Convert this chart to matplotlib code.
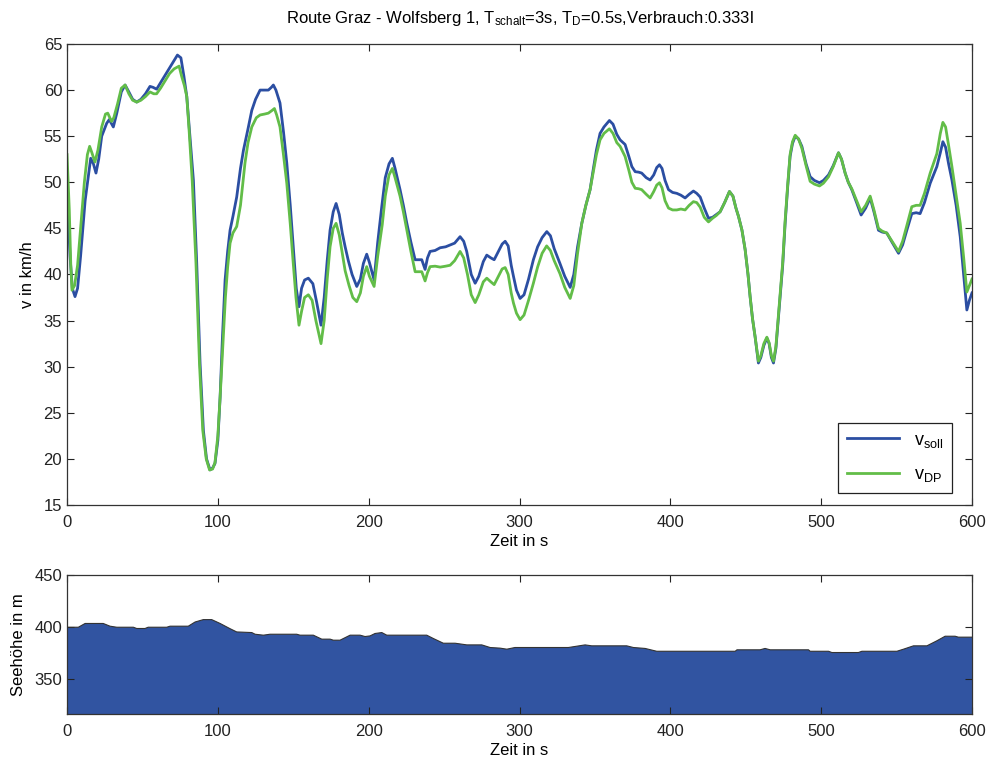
import matplotlib
matplotlib.use('Agg')
import matplotlib.pyplot as plt

plt.rcParams['font.family'] = ['Liberation Sans', 'DejaVu Sans']
plt.rcParams['mathtext.default'] = 'regular'

# v_soll (blue)
t_soll = [0, 2, 3.5, 5.3, 7, 9, 12, 15.7, 17.5, 19.2, 21, 23, 26.3, 28, 30.7, 33, 36, 38.5, 41, 43.5,
          46.2, 49, 52, 55, 57, 59.4, 62, 65, 68, 71, 73.2, 75.5, 77.5, 79.4, 81.5, 83.8, 86, 88.2, 90.4, 92.5,
          94.8, 96.5, 98.1, 100, 101.5, 103, 104.8, 106.5, 108.1, 110, 112.5, 115, 117, 120, 122.5, 125, 128, 131, 133.5, 135.5,
          136.8, 138.5, 141.2, 143.5, 145.7, 148, 150, 152, 153.8, 155.5, 157.5, 160, 163, 165.5, 168.4, 170.5, 172.5, 174.4, 176.5, 178.4,
          180.5, 182.5, 184.4, 186.5, 189, 192.1, 194.5, 196.5, 198.7, 200.5, 203.6, 206, 208.7, 211, 213.5, 215.7, 217.5, 220.8, 223, 225.3,
          228, 230.8, 233, 235.2, 237.4, 239, 240.7, 244, 247.4, 251, 254, 257, 260.6, 263, 265, 268, 270.6, 273, 276, 278.3,
          281, 283.2, 286, 288.5, 290.5, 292.5, 294.5, 296, 298, 300.4, 303, 306, 309.2, 312, 315, 318.1, 320.5, 323, 326.8, 330,
          333.6, 336, 338.5, 341.3, 344, 346.8, 349, 351, 353.4, 356, 359.6, 362, 364.5, 366.7, 370, 372.5, 374.5, 376.7, 379, 381,
          384, 386.6, 389, 391, 392.8, 394.5, 396.5, 398.8, 401.5, 404.3, 407, 409.8, 412.5, 415.3, 417.5, 419.8, 422.5, 425.3, 428, 430.5,
          433, 436, 439.2, 441.5, 443.5, 445.2, 447.5, 449.6, 451.5, 452.9, 454.5, 456.2, 458.4, 460, 462, 464, 465.5, 467, 468.4, 470,
          472.8, 474.5, 476.1, 477.8, 479.4, 481, 482.8, 485, 487.2, 490, 492.7, 495.5, 498.9, 501.5, 504.9, 508, 511.5, 513.5, 515.9, 518,
          520.3, 523.5, 526.5, 529.5, 532.5, 535, 538, 540.5, 543.5, 547, 551.3, 554, 556.8, 560.1, 563, 565.6, 568.5, 572.3, 576.7, 579,
          580.7, 582.5, 584.5, 586.7, 589.5, 592.2, 594.5, 596.6, 598.3, 600]
v_soll = [49, 42, 38.5, 37.6, 38.5, 42, 48, 52.6, 52, 51.0, 52.5, 55, 56.4, 56.8, 56.0, 57.5, 59.8, 60.55, 59.8, 59,
          58.7, 59, 59.6, 60.4, 60.3, 60.1, 60.8, 61.6, 62.4, 63.2, 63.8, 63.5, 61.5, 59.3, 55, 50.2, 41.2, 30.4, 23.1, 20,
          18.8, 19, 19.5, 22, 26.7, 33, 39.4, 42.5, 44.8, 46.3, 48.4, 51.5, 53.5, 55.8, 57.8, 59, 60.0, 60.0, 60.0, 60.3,
          60.55, 60, 58.6, 55.5, 52.1, 47.5, 43.0, 38.5, 36.5, 38.5, 39.4, 39.6, 39.0, 37, 34.5, 37.5, 41.5, 44.8, 46.8, 47.7,
          46.5, 44.5, 43.0, 41.5, 40, 38.7, 39.5, 41.2, 42.2, 41.3, 39.4, 43.5, 47.4, 50.5, 52, 52.6, 51.5, 49.2, 47.5, 45.55,
          43.5, 41.6, 41.6, 41.6, 40.55, 41.8, 42.5, 42.6, 42.9, 43.0, 43.2, 43.4, 44.1, 43.6, 42.5, 40, 39.05, 39.8, 41.4, 42.1,
          41.8, 41.6, 42.5, 43.3, 43.6, 43.1, 41.0, 39.8, 38.3, 37.4, 37.8, 39.5, 41.6, 43.0, 44, 44.65, 44.2, 42.8, 41.2, 39.8,
          38.6, 40, 43, 45.55, 47.5, 49.2, 51.5, 53.5, 55.3, 56, 56.7, 56.3, 55.2, 54.6, 54.1, 52.8, 51.7, 51.15, 51.1, 51.0,
          50.5, 50.25, 50.8, 51.6, 51.9, 51.5, 50.2, 49.2, 48.9, 48.8, 48.6, 48.3, 48.7, 49.05, 48.8, 48.4, 47.2, 46.1, 46.2, 46.5,
          46.8, 47.8, 49.0, 48.5, 47.2, 46.3, 44.8, 42.7, 40, 37.6, 35.2, 33.25, 30.4, 31, 32.3, 33.1, 32.5, 31, 30.4, 32,
          37.6, 41, 45.5, 49.5, 52.8, 54.2, 55.0, 54.7, 53.9, 52, 50.6, 50.2, 49.95, 50.2, 50.8, 51.8, 53.2, 52.5, 51.0, 50,
          49.2, 47.8, 46.45, 47.2, 48.3, 46.8, 44.8, 44.6, 44.5, 43.5, 42.3, 43.2, 44.8, 46.6, 46.7, 46.6, 47.8, 49.9, 51.7, 53.2,
          54.4, 53.8, 52, 50.25, 47.5, 44.1, 40, 36.15, 37.2, 38.0]

# v_DP (green)
t_dp = [0, 1.5, 2.5, 3.3, 5, 7, 9, 11.5, 13.5, 15, 16.5, 18.5, 20.5, 23, 25.5, 27, 29.5, 31, 33.5, 36,
        38.5, 41, 43.5, 46.2, 49, 52, 55, 57.5, 59.4, 62, 65, 68, 71, 74.3, 76, 77.8, 79.4, 81, 83, 85.5,
        87.8, 90, 92.3, 94.5, 96.5, 98.1, 100, 101.5, 103.5, 105, 106.5, 108.1, 110, 112.5, 115, 118, 120, 122.5, 125.5, 128,
        131, 133.5, 136, 137.5, 139, 141.2, 143.5, 145.7, 148, 150, 151.8, 153.8, 155.5, 157.5, 160, 162.5, 165, 168.4, 170.5, 172.5,
        174.4, 176.5, 178.4, 180.5, 182.5, 184.4, 187, 189.5, 192.1, 194.5, 196.5, 198.7, 200.5, 203.6, 206, 209, 211, 213.5, 215.7, 217.5,
        220.8, 223, 225.3, 228, 230.8, 233, 235.2, 237.4, 239, 240.7, 244, 247.4, 251, 254, 257, 260.6, 263, 265.5, 268, 270.6,
        273, 276, 278.3, 281, 283.2, 286, 288.5, 290.5, 292.5, 294.5, 296, 298, 300.4, 303, 306, 309.2, 312, 315, 318, 320.5,
        323, 326.8, 330, 333.6, 336, 338.5, 341.3, 344, 346.8, 349, 351, 353.4, 356, 359.6, 362, 364.5, 366.7, 370, 372.5, 374.5,
        376.7, 379, 381, 384, 386.6, 389, 391, 392.8, 394.5, 396.5, 398.8, 401.5, 404.3, 407, 409.8, 412.5, 415.3, 417.5, 419.8, 422.5,
        425.3, 428, 430.5, 433, 436, 439.2, 441.5, 443.5, 445.2, 447.5, 449.6, 451.5, 452.9, 454.5, 456.2, 458.4, 460, 462, 464, 465.5,
        467, 468.4, 470, 472.8, 474.5, 476.1, 477.8, 479.4, 481, 482.8, 485, 487.2, 490, 492.7, 495.5, 498.9, 501.5, 504.9, 508, 511.5,
        513.5, 515.9, 518, 520.3, 523.5, 526.5, 529.5, 532.5, 535, 538, 540.5, 543.5, 547, 551.3, 554, 556.8, 560.1, 563, 565.6, 568.5,
        572.3, 576.7, 579, 580.7, 582.5, 584.5, 586.7, 589.5, 592.2, 594.5, 596.6, 598.3, 600]
v_dp = [53, 47, 41, 38.3, 38.8, 41, 45, 50, 53, 53.9, 53.2, 52.2, 53.5, 56, 57.4, 57.5, 56.6, 57, 58.5, 60.2,
        60.55, 59.6, 58.9, 58.7, 58.9, 59.3, 59.8, 59.6, 59.6, 60.2, 61.0, 61.8, 62.3, 62.6, 61.5, 60.5, 59.3, 55.5, 50.2, 41.2,
        30.4, 23.1, 20, 18.8, 18.9, 19.6, 22.5, 26.7, 33, 37.5, 40.8, 43.4, 44.5, 45.2, 47.5, 52.1, 54.3, 56.0, 57, 57.3,
        57.4, 57.5, 57.8, 58.0, 57.3, 56.0, 53, 49.9, 45.5, 41.2, 37.5, 34.5, 36, 37.5, 37.8, 37.2, 35, 32.5, 35, 39.5,
        43.0, 45, 45.55, 44.3, 42.3, 40.4, 38.8, 37.5, 37.05, 38, 39.8, 40.85, 39.8, 38.7, 42, 45.4, 48.5, 50.8, 51.5, 50.5,
        48.5, 46.8, 44.8, 42.5, 40.3, 40.3, 40.3, 39.3, 40.2, 40.85, 40.9, 40.8, 40.9, 41.0, 41.5, 42.5, 41.8, 40, 37.8, 36.95,
        37.8, 39.2, 39.6, 39.2, 38.9, 39.8, 40.6, 40.75, 40, 38, 36.9, 35.8, 35.1, 35.6, 37.2, 39.05, 40.8, 42.3, 43.1, 42.6,
        41.5, 40.1, 38.6, 37.4, 38.8, 42.3, 45.55, 47.5, 49.2, 51.2, 53, 54.6, 55.3, 55.8, 55.3, 54.3, 53.9, 52.8, 51.3, 50,
        49.35, 49.3, 49.2, 48.7, 48.3, 49, 49.7, 49.95, 49.4, 48, 47.2, 47.0, 47.0, 47.1, 47.0, 47.5, 47.9, 47.8, 47.3, 46.2,
        45.7, 46.1, 46.4, 46.8, 47.8, 49.0, 48.5, 47.2, 46.3, 44.8, 42.7, 40, 37.6, 35.2, 33.25, 30.6, 31.2, 32.5, 33.2, 32.6,
        31.2, 30.6, 32.2, 37.8, 41.3, 45.8, 49.7, 53.0, 54.4, 55.1, 54.7, 53.7, 51.8, 50.1, 49.8, 49.6, 49.9, 50.6, 51.7, 53.2,
        52.5, 51.0, 50, 49.3, 48, 46.8, 47.5, 48.5, 47, 45, 44.7, 44.5, 43.6, 42.5, 43.6, 45.3, 47.35, 47.5, 47.5, 48.8,
        51.0, 53.1, 55.3, 56.5, 56, 54, 51.7, 48.6, 45.55, 41.8, 38.1, 38.8, 39.5]

# Seehoehe
t_hoehe = [0, 7.5, 12, 24, 28.5, 33, 44, 46.2, 51.7, 53.8, 66.1, 68.3, 80.4, 84.9, 90.4, 95.9, 101.5, 108.1, 112.5, 122.5,
           124.7, 130.2, 134.6, 152.3, 154.5, 163.3, 168.9, 174.4, 176.6, 181, 187.7, 194.3, 197.6, 200.9, 204.2, 208.7, 212, 238.5, 242.9, 249.5,
           257.3, 265.1, 275, 280.5, 287.1, 291.6, 297, 332.4, 343.5, 347.9, 371.1, 375.5, 383.3, 391, 443, 444.2, 459.5, 462.8, 466.2, 491.6,
           492.7, 504.9, 507.1, 524.7, 527, 550.2, 554.6, 561.2, 570.1, 576.7, 582.2, 588.8, 591, 600]
hoehe = [400, 400, 403.6, 403.6, 401, 400, 400, 398.8, 398.8, 400, 400, 401, 401, 405, 407.3, 407.3, 403.6, 398.6, 395.5, 394.9,
         393.3, 392.4, 393.3, 393.3, 392.4, 392.4, 388.6, 388.6, 387.6, 387.6, 392.4, 392.4, 391.1, 391.7, 394, 394.9, 392.4, 392.4, 389.2, 384.7,
         384.7, 383.1, 383.1, 380.6, 380, 379, 380.6, 380.6, 383.1, 382.2, 382.2, 380.6, 379.7, 377, 377, 378.4, 378.4, 379.7, 378.4, 378.4,
         377, 377, 375.8, 375.8, 377, 377, 379, 382.2, 382.2, 387, 391.4, 391.4, 390.5, 390.5]

blau = '#2b4ea2'
gruen = '#62bd48'

fig = plt.figure(figsize=(9.9, 7.65), dpi=100)

# oberes Diagramm: Geschwindigkeit
ax1 = fig.add_axes([0.0677, 0.3399, 0.9141, 0.6026])
ax1.plot(t_soll, v_soll, color=blau, lw=2, label='v$_{soll}$')
ax1.plot(t_dp, v_dp, color=gruen, lw=2, label='v$_{DP}$')
ax1.set_xlim(0, 600)
ax1.set_ylim(15, 65)
ax1.set_xticks(range(0, 601, 100))
ax1.set_yticks(range(15, 66, 5))
ax1.set_xlabel('Zeit in s', fontsize=12, labelpad=3)
ax1.set_ylabel('v in km/h', fontsize=12, labelpad=6)
ax1.set_title('Route Graz - Wolfsberg 1, T$_{schalt}$=3s, T$_D$=0.5s,Verbrauch:0.333l', fontsize=12, pad=15)
leg = ax1.legend(loc='lower right', bbox_to_anchor=(0.978, 0.026), borderaxespad=0, fancybox=False,
                 fontsize=13, handlelength=2.9, edgecolor='#222222', framealpha=1, borderpad=0.5, labelspacing=0.9)
leg.get_frame().set_linewidth(0.9)

# unteres Diagramm: Hoehenprofil
ax2 = fig.add_axes([0.0677, 0.0667, 0.9141, 0.1817])
ax2.fill_between(t_hoehe, 0, hoehe, color='#3154a1', edgecolor='none')
ax2.plot(t_hoehe, hoehe, color='#333333', lw=0.8)
ax2.set_xlim(0, 600)
ax2.set_ylim(317, 450)
ax2.set_xticks(range(0, 601, 100))
ax2.set_yticks([350, 400, 450])
ax2.set_xlabel('Zeit in s', fontsize=12, labelpad=3)
ax2.set_ylabel('Seehöhe in m', fontsize=12, labelpad=6)

for ax in (ax1, ax2):
    ax.tick_params(direction='in', top=True, right=True, length=5, width=0.8, labelsize=12, colors='#222222')
    ax.tick_params(axis='x', pad=7)
    for s in ax.spines.values():
        s.set_linewidth(0.9)
        s.set_color('#333333')

fig.savefig('out.png', dpi=100)
